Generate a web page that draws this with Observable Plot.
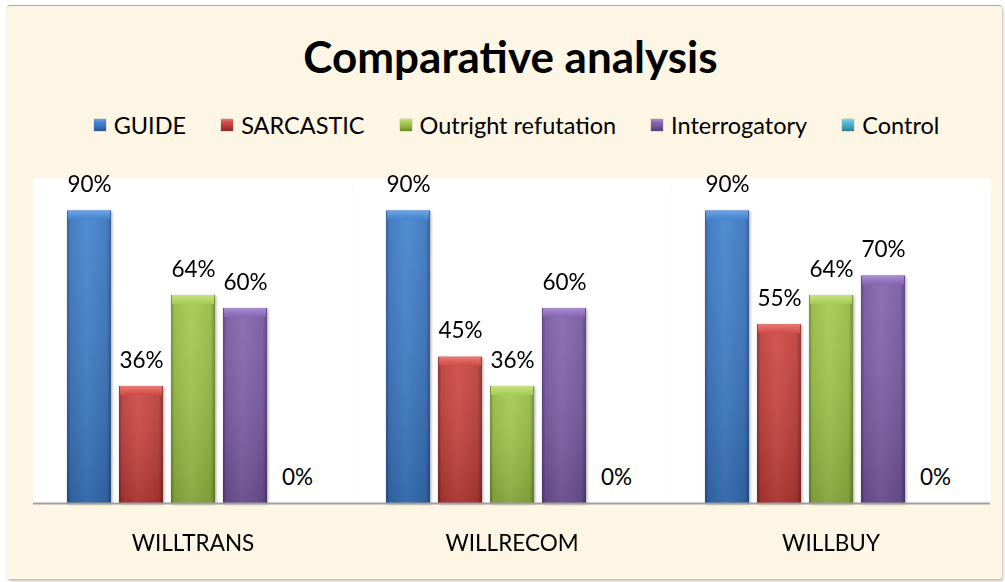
<!DOCTYPE html>
<html>
<head>
<meta charset="utf-8">
<script src="https://cdn.jsdelivr.net/npm/d3@7"></script>
<script src="https://cdn.jsdelivr.net/npm/@observablehq/plot@0.6"></script>
<style>
  html, body { margin: 0; padding: 0; background: #ffffff; width: 1005px; height: 582px; overflow: hidden; }
  #frame {
    position: absolute; left: 7px; top: 5px; width: 995px; height: 573px;
    background: #FEF6E4; border-top: 1px solid #A8A8A8;
    box-shadow: 1px 2px 3px rgba(120,100,80,0.45);
    border-radius: 3px;
  }
  #title {
    position: absolute; left: 8px; top: 28px; width: 1005px; text-align: center;
    font-family: Lato, sans-serif; font-weight: bold; font-size: 44px; color: #000;
    line-height: 56px;
  }
  #legend {
    position: absolute; left: 14px; top: 109px; width: 1005px; height: 32px;
    display: flex; justify-content: center; align-items: center; gap: 35px;
    font-family: Lato, sans-serif; font-size: 23.5px; color: #000;
  }
  .item { display: flex; align-items: center; gap: 8px; }
  .sw { width: 12px; height: 12px; box-shadow: 0 0 1px rgba(0,0,0,0.5); }
  #chart { position: absolute; left: 0; top: 150px; }
</style>
</head>
<body>
<div id="frame"></div>
<div id="title">Comparative analysis</div>
<div id="legend"></div>
<div id="chart"></div>
<script>
// ---- data ----
const groups = ["WILLTRANS", "WILLRECOM", "WILLBUY"];
const series = ["GUIDE", "SARCASTIC", "Outright refutation", "Interrogatory", "Control"];
const guide = [0.90, 0.90, 0.90];
const sarcastic = [0.36, 0.45, 0.55];
const outright = [0.64, 0.36, 0.64];
const interrogatory = [0.60, 0.60, 0.70];
const control = [0, 0, 0];
const seriesValues = [guide, sarcastic, outright, interrogatory, control];

// ---- styles ----
const palette = [
  {edge: "#28548A", mid: "#3873BC", light: "#4383CF", bevel: "#6EA3E2"},
  {edge: "#862724", mid: "#BB3B37", light: "#CF4944", bevel: "#E97A75"},
  {edge: "#6A882B", mid: "#94BA42", light: "#A5CA50", bevel: "#C6E383"},
  {edge: "#523A75", mid: "#76569F", light: "#8564AF", bevel: "#AA8DD3"},
  {edge: "#2D7D94", mid: "#45A7C3", light: "#55B7D3", bevel: "#88D3E7"}
];

const data = [];
series.forEach((s, si) => {
  groups.forEach((g, gi) => {
    data.push({group: g, series: s, value: seriesValues[si][gi]});
  });
});

// legend
const legend = document.getElementById("legend");
series.forEach((s, i) => {
  const p = palette[i];
  const item = document.createElement("div");
  item.className = "item";
  const sw = document.createElement("div");
  sw.className = "sw";
  sw.style.background = `linear-gradient(to bottom, ${p.bevel} 0%, ${p.light} 30%, ${p.mid} 60%, ${p.edge} 100%)`;
  const t = document.createElement("span");
  t.textContent = s;
  item.appendChild(sw);
  item.appendChild(t);
  legend.appendChild(item);
});

const barFill = series.map((s, i) => `url(#bar${i})`);
const bevelFill = series.map((s, i) => `url(#bev${i})`);

const xOpts = {domain: series, axis: null, paddingInner: 0.16, paddingOuter: 0.6};

const plot = Plot.plot({
  width: 1005,
  height: 420,
  marginTop: 28,
  marginBottom: 67,
  marginLeft: 32,
  marginRight: 15,
  style: {fontFamily: "Lato, sans-serif", background: "transparent", overflow: "visible", color: "#000"},
  fx: {domain: groups, padding: 0, label: null},
  x: xOpts,
  y: {domain: [0, 1], axis: null},
  color: {domain: series, range: barFill},
  marks: [
    Plot.frame({fill: "white", stroke: null}),
    Plot.barY(data, {fx: "group", x: "series", y: "value", fill: "series"}),
    Plot.barY(data, {fx: "group", x: "series", y: "value", fill: "url(#shade)"}),
    Plot.barY(data.filter(d => d.value > 0), {fx: "group", x: "series", y1: "value", y2: "value", insetBottom: -9, insetLeft: 1, insetRight: 1, fill: d => bevelFill[series.indexOf(d.series)]}),
    Plot.ruleY([0], {stroke: "#A0A0A0", strokeWidth: 2}),
    Plot.text(data, {fx: "group", x: "series", y: "value", text: d => d3.format(".0%")(d.value), dy: -26, fontSize: 22.5, fill: "#000"}),
    Plot.axisFx({anchor: "bottom", tickSize: 0, tickPadding: 32, fontSize: 22.5, label: null, fill: "#000"})
  ]
});

document.getElementById("chart").appendChild(plot);

// gradient defs
const svg = d3.select(plot.tagName === "svg" ? plot : plot.querySelector("svg"));
const defs = svg.insert("defs", ":first-child");
palette.forEach((p, i) => {
  const g = defs.append("linearGradient").attr("id", `bar${i}`).attr("x1", 0).attr("x2", 1).attr("y1", 0).attr("y2", 0);
  [[0, p.edge], [0.08, p.mid], [0.45, p.light], [0.9, p.mid], [1, p.edge]].forEach(([o, c]) =>
    g.append("stop").attr("offset", o).attr("stop-color", c));
  const b = defs.append("linearGradient").attr("id", `bev${i}`).attr("x1", 0).attr("x2", 0).attr("y1", 0).attr("y2", 1);
  [[0, p.bevel], [1, p.light]].forEach(([o, c]) =>
    b.append("stop").attr("offset", o).attr("stop-color", c));
});
const sh = defs.append("linearGradient").attr("id", "shade").attr("x1", 0).attr("x2", 0).attr("y1", 0).attr("y2", 1);
sh.append("stop").attr("offset", 0).attr("stop-color", "#ffffff").attr("stop-opacity", 0.08);
sh.append("stop").attr("offset", 1).attr("stop-color", "#000000").attr("stop-opacity", 0.16);

svg.selectAll("g[aria-label='bar']").filter((d, i) => i === 0)
  .style("filter", "drop-shadow(1.5px 1px 1.5px rgba(0,0,0,0.35))");
</script>
</body>
</html>
